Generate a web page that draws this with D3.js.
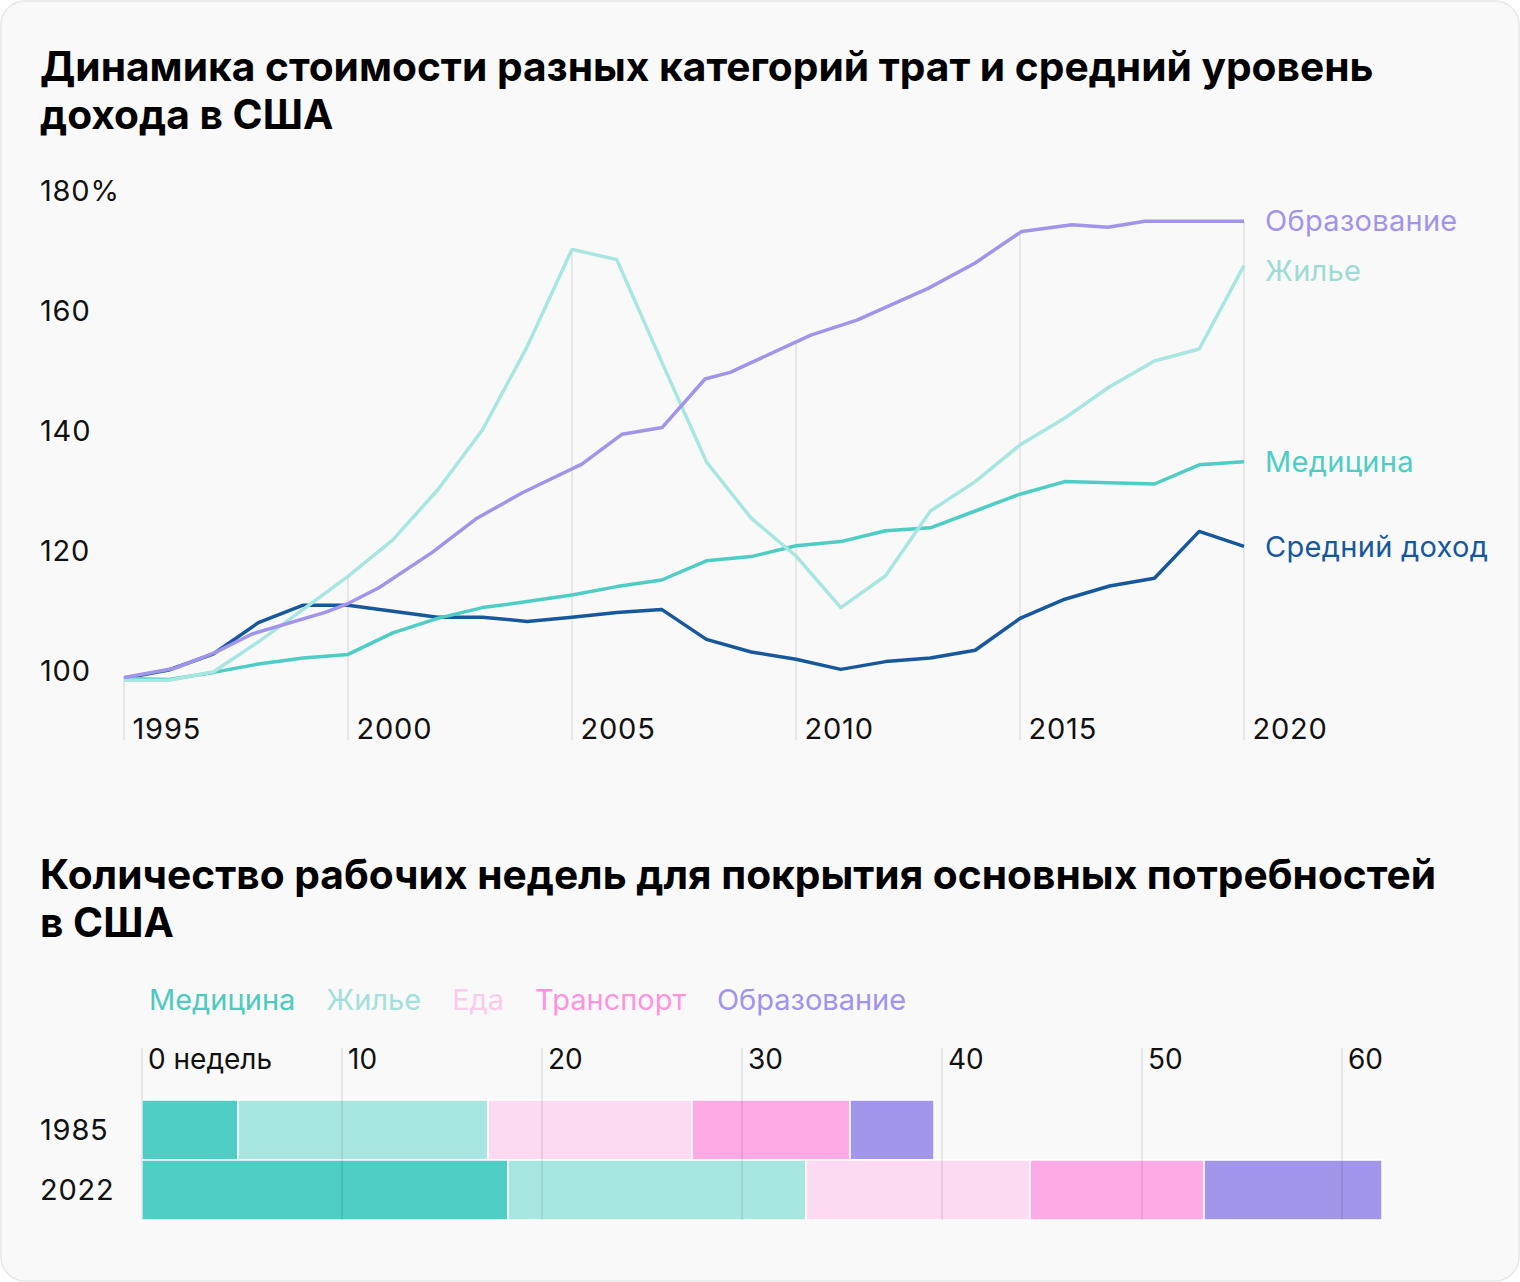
<!DOCTYPE html>
<html><head><meta charset="utf-8">
<script src="https://cdn.jsdelivr.net/npm/d3@7"></script>
<style>
html,body{margin:0;padding:0;background:#fff;}
svg{display:block;font-family:Inter, Roboto, sans-serif;}
</style></head>
<body>
<svg id="c" width="1520" height="1282"></svg>
<script>
// ---------- Data: line chart ----------
const years = [1995,1996,1997,1998,1999,2000,2001,2002,2003,2004,2005,2006,2007,2008,2009,2010,2011,2012,2013,2014,2015,2016,2017,2018,2019,2020];
const income   = [98.6,100.0,102.7,107.9,110.8,110.8,109.8,108.8,108.8,108.1,108.8,109.6,110.1,105.1,103.0,101.8,100.1,101.4,102.0,103.3,108.6,111.8,114.0,115.3,123.1,120.6];
const medicine = [98.6,98.4,99.6,101.0,102.0,102.6,106.2,108.6,110.4,111.4,112.5,113.9,115.0,118.2,118.9,120.7,121.4,123.2,123.7,126.5,129.3,131.4,131.2,131.0,134.2,134.7];
const housing  = [98.3,98.3,99.7,104.7,110.1,115.6,121.7,130.0,140.0,153.9,170.1,168.4,151.4,134.7,125.3,119.0,110.4,115.7,126.5,131.4,137.5,142.0,147.2,151.5,153.5,167.4];
const eduYears  = [1995,1996.14,1997.03,1997.86,1999.49,1999.98,2000.69,2001.88,2002.88,2003.88,2005.22,2006.12,2007.01,2007.97,2008.53,2009.98,2010.33,2011.36,2012.95,2013.99,2015.04,2016.16,2016.96,2017.79,2020];
const eduValues = [98.75,100.3,102.9,106.0,109.6,111.0,113.7,119.6,125.3,129.5,134.3,139.3,140.4,148.5,149.6,154.6,155.8,158.3,163.6,167.8,173.1,174.2,173.8,174.8,174.8];
const seriesNames  = ["Средний доход","Медицина","Жилье","Образование"];
const lineColors   = ["#17589d","#4ecdc4","#a8e6e1","#a194ea"];
const labelColors  = ["#17589d","#4ecdc4","#9ddcd6","#a194ea"];
const yearTicks  = [1995,2000,2005,2010,2015,2020];
const valueTicks = [100,120,140,160,180];

// ---------- Data: bar chart ----------
const barRows = ["1985","2022"];
const barCats = ["Медицина","Жилье","Еда","Транспорт","Образование"];
const weeks1985 = [4.8,12.5,10.2,7.9,4.2];
const weeks2022 = [18.3,14.9,11.2,8.7,8.9];
const barColors    = ["#4ecdc4","#a8e6e2","#fcdaf1","#fdaae5","#a196ea"];
const legendColors = ["#4ec9c0","#a3e0db","#fbcbec","#ff94de","#a194ea"];
const weekTicks = [0,10,20,30,40,50,60];

const FS = 29;
const svg = d3.select("#c");
// card
svg.append("rect").attr("x",1).attr("y",1).attr("width",1518).attr("height",1280)
  .attr("rx",24).attr("fill","#f9f9f9").attr("stroke","#e6e6e6").attr("stroke-width",1.5);

function title(lines, x, y0, lh){
  const t = svg.append("text").attr("x",x).attr("y",y0)
    .attr("font-size",40.7).attr("font-weight",700).attr("fill","#000");
  lines.forEach((l,i)=>t.append("tspan").attr("x",x).attr("y",y0+i*lh).text(l));
}
title(["Динамика стоимости разных категорий трат и средний уровень","дохода в США"],40,81,48);
title(["Количество рабочих недель для покрытия основных потребностей","в США"],40,889,48);

// ---------- Line chart ----------
const x = d3.scaleLinear().domain([1995,2020]).range([124,1244]);
const y = d3.scaleLinear().domain([100,180]).range([670,190]);

const series = [
  {name:seriesNames[0], pts: years.map((yr,i)=>[yr,income[i]]), dy:0},
  {name:seriesNames[1], pts: years.map((yr,i)=>[yr,medicine[i]]), dy:0},
  {name:seriesNames[2], pts: years.map((yr,i)=>[yr,housing[i]]), dy:5},
  {name:seriesNames[3], pts: eduYears.map((yr,i)=>[yr,eduValues[i]]), dy:0}
];
function valueAt(pts, yr){
  for(let i=0;i<pts.length-1;i++){
    const a=pts[i], b=pts[i+1];
    if(yr>=a[0] && yr<=b[0]) return a[1]+(b[1]-a[1])*(yr-a[0])/(b[0]-a[0]);
  }
  return yr<=pts[0][0]?pts[0][1]:pts[pts.length-1][1];
}
const gridBottom = 740;
svg.append("g").selectAll("line").data(yearTicks).join("line")
  .attr("x1",d=>x(d)).attr("x2",d=>x(d))
  .attr("y1",gridBottom)
  .attr("y2",d=>y(d3.max(series,s=>valueAt(s.pts,d))))
  .attr("stroke","#e0e0e0").attr("stroke-width",1.5);

const xAxis = d3.axisBottom(x).tickValues(yearTicks).tickSize(0).tickFormat(d3.format("d"));
const gx = svg.append("g").attr("transform",`translate(0,${gridBottom})`).call(xAxis);
gx.select(".domain").remove();
gx.selectAll("text").attr("font-size",FS).attr("font-family","Inter, Roboto, sans-serif")
  .attr("letter-spacing",0.8)
  .attr("fill","#111").attr("text-anchor","start").attr("dx",8).attr("y",-1).attr("dy",0);

const yAxis = d3.axisLeft(y).tickValues(valueTicks).tickSize(0).tickFormat(d=>d===180?d+"%":d);
const gy = svg.append("g").attr("transform","translate(40,0)").call(yAxis);
gy.select(".domain").remove();
gy.selectAll("text").attr("font-size",FS).attr("font-family","Inter, Roboto, sans-serif")
  .attr("letter-spacing",0.8)
  .attr("fill","#111").attr("text-anchor","start").attr("x",0).attr("dy","0.35em");

const line = d3.line().x(d=>x(d[0])).y(d=>y(d[1]));
svg.append("g").selectAll("path").data(series).join("path")
  .attr("d",d=>line(d.pts)).attr("fill","none")
  .attr("stroke",(d,i)=>lineColors[i]).attr("stroke-width",3.5)
  .attr("stroke-linejoin","round").attr("stroke-linecap","butt");

svg.append("g").selectAll("text").data(series).join("text")
  .attr("x",d=>x(d.pts[d.pts.length-1][0])+21)
  .attr("y",d=>y(d.pts[d.pts.length-1][1])+d.dy)
  .attr("dy","0.35em").attr("font-size",FS).attr("letter-spacing",0.3)
  .attr("fill",(d,i)=>labelColors[i]).text(d=>d.name);

// ---------- Bar chart ----------
const xb = d3.scaleLinear().domain([0,60]).range([142,1342]);
const yb = d3.scaleBand().domain(barRows).range([1100,1220]);
const rows = [weeks1985, weeks2022];

const lg = svg.append("g");
let lx = 149;
barCats.forEach((c,i)=>{
  const t = lg.append("text").attr("x",lx).attr("y",1000).attr("dy","0.35em")
    .attr("font-size",FS).attr("fill",legendColors[i]).text(c);
  lx += t.node().getComputedTextLength() + 31;
});

rows.forEach((vals,r)=>{
  let acc = 0;
  const segs = vals.map((v,i)=>{const s={x0:acc,x1:acc+v,i}; acc+=v; return s;});
  svg.append("g").selectAll("rect").data(segs).join("rect")
    .attr("x",d=>xb(d.x0)).attr("width",d=>xb(d.x1)-xb(d.x0))
    .attr("y",yb(barRows[r])).attr("height",yb.bandwidth())
    .attr("fill",d=>barColors[d.i]).attr("stroke","#fff").attr("stroke-width",1.5);
});

svg.append("g").selectAll("line").data(weekTicks).join("line")
  .attr("x1",d=>xb(d)).attr("x2",d=>xb(d)).attr("y1",1048).attr("y2",1220)
  .attr("stroke","rgba(0,0,0,0.1)").attr("stroke-width",1.5);
svg.append("g").selectAll("text").data(weekTicks).join("text")
  .attr("x",d=>xb(d)+6).attr("y",1069).attr("font-size",28).attr("fill","#111")
  .text(d=>d===0?"0 недель":d);

svg.append("g").selectAll("text").data(barRows).join("text")
  .attr("x",40).attr("y",d=>yb(d)+yb.bandwidth()/2).attr("dy","0.35em")
  .attr("font-size",FS).attr("letter-spacing",0.8).attr("fill","#111").text(d=>d);
</script>
</body></html>
